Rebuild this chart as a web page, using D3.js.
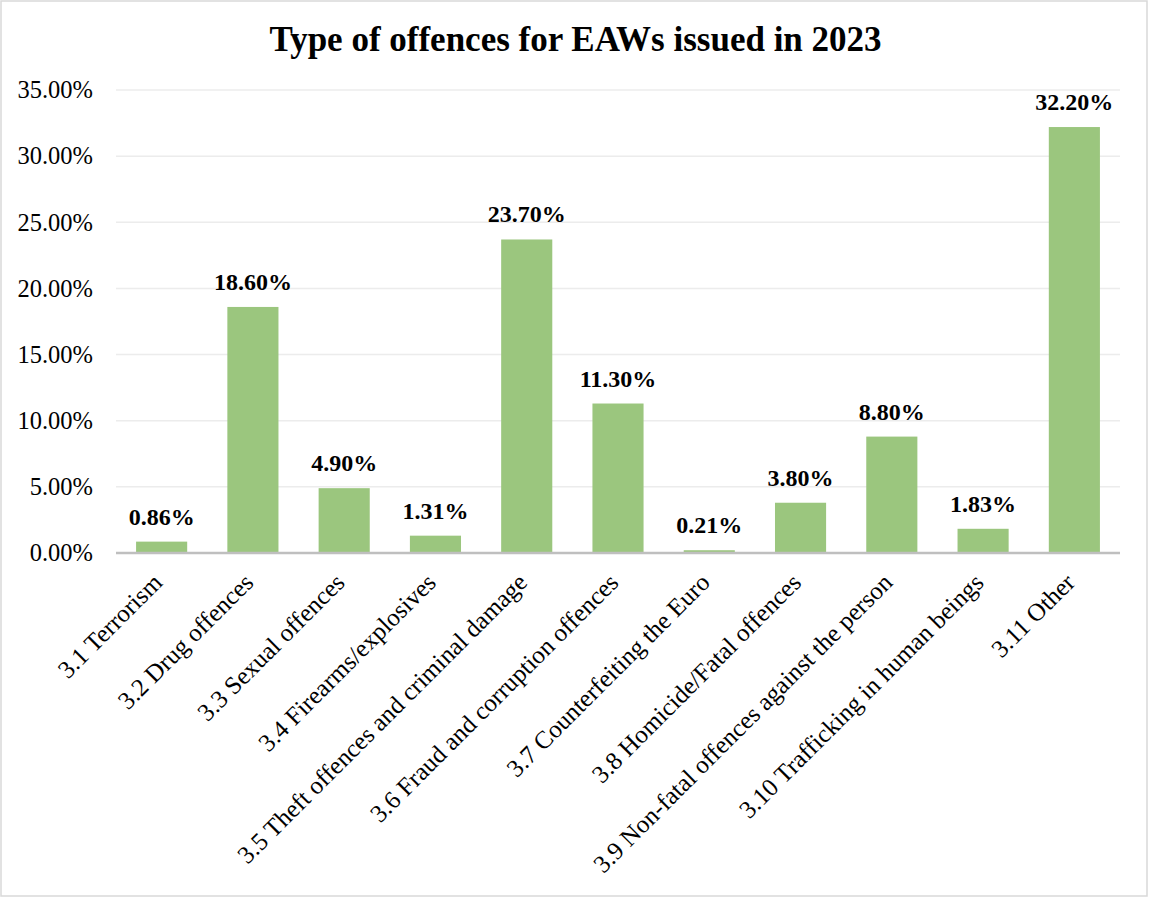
<!DOCTYPE html>
<html><head><meta charset="utf-8">
<script src="https://cdn.jsdelivr.net/npm/d3@7"></script>
<style>html,body{margin:0;padding:0;background:#fff}</style>
</head><body>
<script>
const categories = ["3.1 Terrorism","3.2 Drug offences","3.3 Sexual offences","3.4 Firearms/explosives","3.5 Theft offences and criminal damage","3.6 Fraud and corruption offences","3.7 Counterfeiting the Euro","3.8 Homicide/Fatal offences","3.9 Non-fatal offences against the person","3.10 Trafficking in human beings","3.11 Other"];
const values = [0.86,18.60,4.90,1.31,23.70,11.30,0.21,3.80,8.80,1.83,32.20];
const yTicks = [0,5,10,15,20,25,30,35];
const title = "Type of offences for EAWs issued in 2023";

const W = 1149, H = 898;
const m = {left:116, right:29, top:90, bottom:345};
const svg = d3.select("body").append("svg").attr("width",W).attr("height",H);
svg.append("rect").attr("x",1).attr("y",1).attr("width",W-3).attr("height",H-3)
  .attr("fill","#fff").attr("stroke","#d9d9d9").attr("stroke-width",1.5);

const x = d3.scaleBand().domain(categories).range([m.left, W-m.right]).paddingInner(0.44).paddingOuter(0.22);
const y = d3.scaleLinear().domain([0,35]).range([H-m.bottom, m.top]);
const font = "'Liberation Serif','Times New Roman',serif";

svg.append("text").attr("x",W/2+1).attr("y",51).attr("text-anchor","middle")
  .attr("font-family",font).attr("font-weight","bold").attr("font-size",35).text(title);

// gridlines
svg.append("g").selectAll("line").data(yTicks.filter(d=>d>0)).join("line")
  .attr("x1",m.left).attr("x2",W-m.right).attr("y1",d=>y(d)).attr("y2",d=>y(d))
  .attr("stroke","#ececec").attr("stroke-width",1.5);

// y axis labels
const ya = svg.append("g").attr("transform",`translate(${m.left},0)`)
  .call(d3.axisLeft(y).tickValues(yTicks).tickSize(0).tickPadding(23).tickFormat(d=>d.toFixed(2)+"%"));
ya.select(".domain").remove();
ya.selectAll("text").attr("font-family",font).attr("font-size",24.5).attr("fill","#000").attr("dy","0.32em");

// bars
svg.append("g").selectAll("rect").data(values).join("rect")
  .attr("x",(d,i)=>x(categories[i])).attr("width",x.bandwidth())
  .attr("y",d=>y(d)).attr("height",d=>y(0)-y(d)).attr("fill","#9bc67e");

// data labels
svg.append("g").selectAll("text").data(values).join("text")
  .attr("x",(d,i)=>x(categories[i])+x.bandwidth()/2).attr("y",d=>y(d)-17)
  .attr("text-anchor","middle").attr("font-family",font).attr("font-weight","bold").attr("font-size",24)
  .text(d=>d.toFixed(2)+"%");

// x axis
const xa = svg.append("g").attr("transform",`translate(0,${y(0)})`)
  .call(d3.axisBottom(x).tickSize(0).tickPadding(0));
xa.select(".domain").attr("stroke","#bfbfbf").attr("stroke-width",2.5).attr("d",`M${m.left},0H${W-m.right}`);
xa.selectAll("text").attr("font-family",font).attr("font-size",25).attr("fill","#000")
  .attr("text-anchor","end").attr("dy",0).attr("y",0)
  .attr("transform","translate(2,31) rotate(-45)");
</script>
</body></html>
